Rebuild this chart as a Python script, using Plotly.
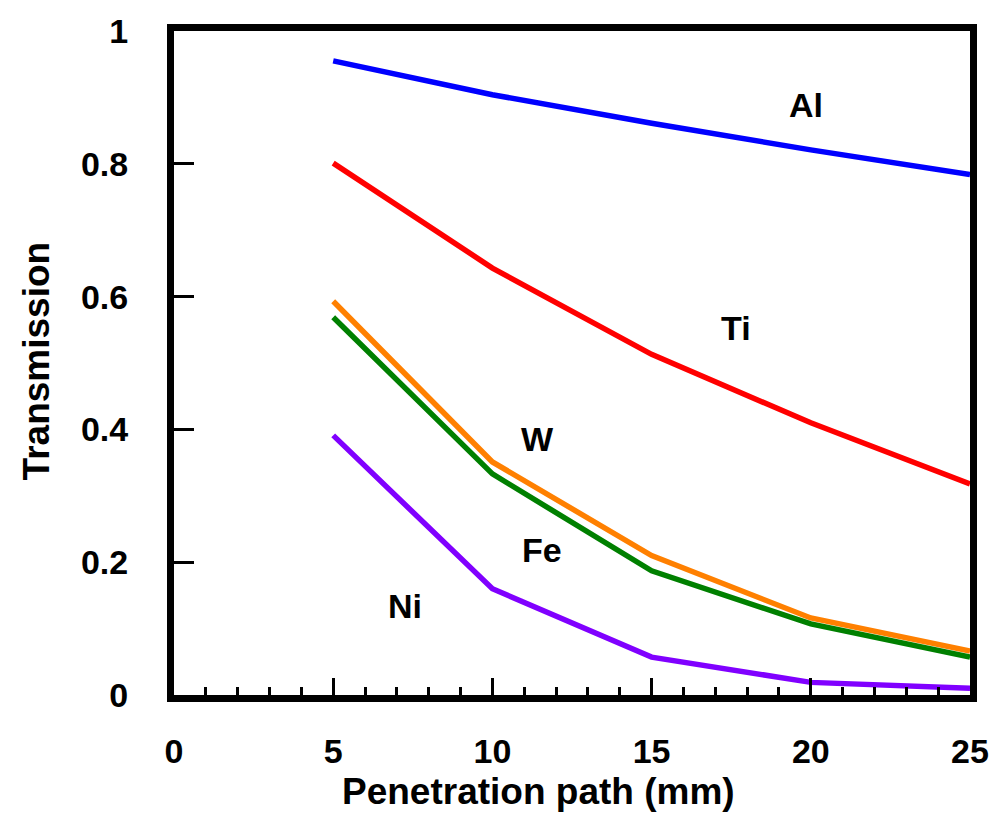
import plotly.graph_objects as go

path_mm = [5, 10, 15, 20, 25]
al = [0.955, 0.904, 0.861, 0.821, 0.784]
ti = [0.801, 0.643, 0.513, 0.410, 0.318]
w = [0.593, 0.351, 0.210, 0.116, 0.066]
fe = [0.569, 0.333, 0.187, 0.107, 0.057]
ni = [0.391, 0.160, 0.057, 0.019, 0.010]

series = [
    ("Al", al, "#0000FF"),
    ("Ti", ti, "#FF0000"),
    ("W", w, "#FF8000"),
    ("Fe", fe, "#008000"),
    ("Ni", ni, "#8000FF"),
]

FONT = "Liberation Sans, Arial, sans-serif"

fig = go.Figure()
for name, vals, col in series:
    fig.add_trace(go.Scatter(x=path_mm, y=vals, mode="lines", name=name,
                             line=dict(color=col, width=5.5), showlegend=False))

labels = [("Al", 19.84, 0.888), ("Ti", 17.66, 0.552), ("W", 11.41, 0.385),
          ("Fe", 11.57, 0.219), ("Ni", 7.25, 0.134)]
for t, x, y in labels:
    fig.add_annotation(x=x, y=y, text="<b>%s</b>" % t, showarrow=False,
                       font=dict(family=FONT, size=34, color="black"))

# axis titles
fig.add_annotation(xref="paper", yref="paper", x=0.4577, y=-0.1448,
                   xanchor="center", yanchor="middle", showarrow=False,
                   text="<b>Penetration path (mm)</b>",
                   font=dict(family=FONT, size=37, color="black"))
fig.add_annotation(xref="paper", yref="paper", x=-0.1729, y=0.503,
                   xanchor="center", yanchor="middle", showarrow=False, textangle=-90,
                   text="<b>Transmission</b>",
                   font=dict(family=FONT, size=37, color="black"))

fig.update_layout(
    width=1001, height=815,
    margin=dict(l=174, r=23, t=25, b=120),
    paper_bgcolor="white", plot_bgcolor="white",
    font=dict(family=FONT, color="black"),
)
fig.update_xaxes(
    range=[0, 25], tickmode="array", tickvals=[0, 5, 10, 15, 20, 25],
    ticktext=["<b>%d</b>" % v for v in [0, 5, 10, 15, 20, 25]],
    ticks="inside", ticklen=17, tickwidth=3, tickcolor="black",
    minor=dict(ticks="inside", dtick=1, ticklen=8, tickwidth=3, tickcolor="black", showgrid=False),
    showline=True, linewidth=7, linecolor="black", mirror=True,
    showgrid=False, zeroline=False,
    tickfont=dict(family=FONT, size=34, color="black"),
    ticklabelstandoff=20,
)
fig.update_yaxes(
    range=[0, 1], tickmode="array", tickvals=[0, 0.2, 0.4, 0.6, 0.8, 1],
    ticktext=["<b>%s</b>" % s for s in ["0", "0.2", "0.4", "0.6", "0.8", "1"]],
    ticks="inside", ticklen=20, tickwidth=3, tickcolor="black",
    showline=True, linewidth=7, linecolor="black", mirror=True,
    showgrid=False, zeroline=False,
    tickfont=dict(family=FONT, size=34, color="black"),
    ticklabelstandoff=32,
)

fig.write_html("out.html")
